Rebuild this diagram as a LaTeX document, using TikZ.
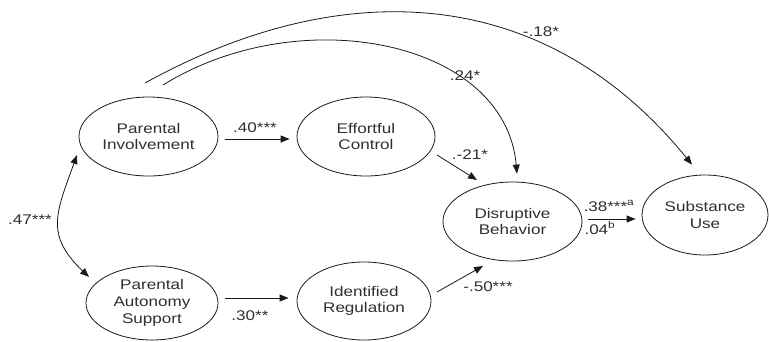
\documentclass[tikz,border=0pt]{standalone}
\usepackage{fontspec}
\usepackage{graphicx}
\setmainfont{Liberation Sans}
\newcommand{\wdx}[1]{\scalebox{1.22}[1]{#1}}
\usetikzlibrary{shapes.geometric,arrows.meta,calc}
\definecolor{txt}{HTML}{303030}
\definecolor{ln}{HTML}{1A1A1A}
\begin{document}
\begin{tikzpicture}[x=1pt,y=-1pt,
  font=\fontsize{14}{16.7}\selectfont,
  var/.style={ellipse,draw=ln,line width=0.8pt,inner sep=0pt,align=center,text=txt},
  pth/.style={draw=ln,line width=0.8pt,-{Triangle[length=9pt,width=7pt]}},
  lab/.style={text=txt,inner sep=0pt}]
\useasboundingbox[fill=white] (0,0) rectangle (769,341);

\node[var,minimum width=139pt,minimum height=79pt] (PI) at (148.5,136.5) {\wdx{Parental}\\\wdx{Involvement}};
\node[var,minimum width=138pt,minimum height=79pt] (EC) at (366,136.5) {\wdx{Effortful}\\\wdx{Control}};
\node[var,minimum width=132pt,minimum height=74pt] (PAS) at (152,303) {\wdx{Parental}\\\wdx{Autonomy}\\\wdx{Support}};
\node[var,minimum width=134pt,minimum height=78pt] (IR) at (364,301) {\wdx{Identified}\\\wdx{Regulation}};
\node[var,minimum width=139pt,minimum height=79pt] (DB) at (512.5,221.5) {\wdx{Disruptive}\\\wdx{Behavior}};
\node[var,minimum width=126pt,minimum height=80pt] (SU) at (705,215) {\wdx{Substance}\\\wdx{Use}};

% straight paths
\draw[pth] ($(PI.east)+(7,2.5)$) -- ($(EC.west)+(-7,2.5)$);
\draw[pth] ($(PAS.east)+(7,-5)$) -- ($(IR.west)+(-8,-3)$);
\draw[pth] ($(EC.center)+(71,18.5)$) -- ($(DB.center)+(-35.5,-41.5)$);
\draw[pth] ($(IR.center)+(73,-9)$) -- ($(DB.center)+(-29.5,44.5)$);
\draw[pth] ($(DB.east)+(6,-2.5)$) -- ($(SU.west)+(-6,4)$);

% curved paths
\draw[pth] ($(PI.center)+(14.5,-51.5)$) .. controls (300,0) and (505,40) .. ($(DB.north)+(4.5,-8)$);
\draw[pth] ($(PI.center)+(-3.5,-53.5)$) .. controls (335,-22) and (540,-22) .. ($(SU.north)+(-13,-10)$);
\draw[draw=ln,line width=0.8pt,{Triangle[length=9pt,width=7pt]}-{Triangle[length=9pt,width=7pt]}]
  ($(PI.center)+(-71.5,18.5)$) .. controls (56,213) and (45,235) .. ($(PAS.center)+(-63,-26)$);

% labels
\node[lab] (l40) at (255,128) {\wdx{.40***}};
\node[lab] (l30) at (250,316) {\wdx{.30**}};
\node[lab] (l21) at (470,155) {\wdx{.-21*}};
\node[lab] (l50) at (488,287) {\wdx{-.50***}};
\node[lab] (l24) at (465,76) {\wdx{.24*}};
\node[lab] (l18) at (541,32) {\wdx{-.18*}};
\node[lab] (l47) at (30,220) {\wdx{.47***}};
\node[lab] (l38) at (609,206) {\wdx{.38***\textsuperscript{a}}};
\node[lab] (l04) at (600,228) {\wdx{.04\textsuperscript{b}}};
\end{tikzpicture}
\end{document}
